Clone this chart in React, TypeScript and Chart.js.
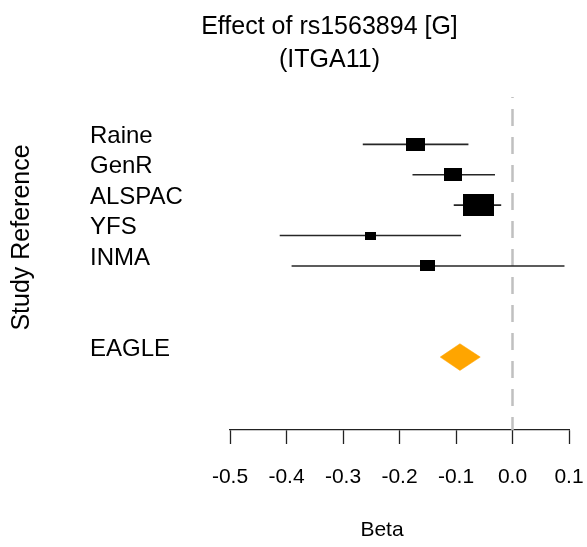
import React, { useEffect, useRef } from 'react';
import { Chart, registerables } from 'chart.js';

Chart.register(...registerables);

// ---------- data ----------
const studies = ['Raine', 'GenR', 'ALSPAC', 'YFS', 'INMA'];
const studyRows = [1, 2, 3, 4, 5];
const betaEstimates = [-0.172, -0.105, -0.061, -0.252, -0.150];
const ciLower = [-0.265, -0.177, -0.104, -0.412, -0.391];
const ciUpper = [-0.078, -0.031, -0.020, -0.091, 0.092];
const studyWeights = [18.7, 16.9, 46.5, 6.3, 11.5];

const pooledLabel = 'EAGLE';
const pooledRow = 8;
const pooledEstimate = -0.093;
const pooledLower = -0.128;
const pooledUpper = -0.057;

const xTickValues = [-0.5, -0.4, -0.3, -0.2, -0.1, 0.0, 0.1];
const xTickLabels = ['-0.5', '-0.4', '-0.3', '-0.2', '-0.1', '0.0', '0.1'];
const nullEffect = 0;

const titleLines = ['Effect of rs1563894 [G]', '(ITGA11)'];
const xAxisTitle = 'Beta';
const yAxisTitle = 'Study Reference';

// ---------- layout constants ----------
const Y_MIN = -0.56;
const Y_MAX = 10.4;
const DIAMOND_HALF = 0.44;
const FONT = '"Liberation Sans", Arial, Helvetica, sans-serif';

const allRows = [...studyRows, pooledRow];
const allLabels = [...studies, pooledLabel];

function makeBox(weight: number): HTMLCanvasElement {
  const w = Math.round(4.5 * Math.sqrt(weight));
  const h = Math.round(w * 0.7);
  const c = document.createElement('canvas');
  c.width = w;
  c.height = h;
  const g = c.getContext('2d')!;
  g.fillStyle = '#000';
  g.fillRect(0, 0, w, h);
  return c;
}

const textPlugin = {
  id: 'extraText',
  afterDraw(chart: any) {
    const ctx = chart.ctx;
    ctx.save();
    ctx.fillStyle = '#000';
    ctx.textAlign = 'center';
    ctx.textBaseline = 'middle';
    // y axis title
    ctx.save();
    ctx.translate(22.5, 237.5);
    ctx.rotate(-Math.PI / 2);
    ctx.font = `25px ${FONT}`;
    ctx.fillText(yAxisTitle, 0, 0);
    ctx.restore();
    // x axis title
    ctx.font = `21px ${FONT}`;
    ctx.fillText(xAxisTitle, 382, 530);
    ctx.restore();
  },
};

export default function App() {
  const ref = useRef<HTMLCanvasElement | null>(null);

  useEffect(() => {
    if (!ref.current) return;
    Chart.defaults.font.family = FONT;

    const datasets: any[] = [];

    // study boxes (drawn on top)
    datasets.push({
      type: 'line',
      label: 'estimates',
      data: studies.map((_, i) => ({ x: betaEstimates[i], y: studyRows[i] })),
      showLine: false,
      pointStyle: studyWeights.map((w) => makeBox(w)),
      pointRadius: 5,
      order: 0,
    });

    // confidence interval lines
    studies.forEach((s, i) => {
      datasets.push({
        type: 'line',
        label: s + ' CI',
        data: [
          { x: ciLower[i], y: studyRows[i] },
          { x: ciUpper[i], y: studyRows[i] },
        ],
        borderColor: '#262626',
        borderWidth: 1.6,
        pointRadius: 0,
        fill: false,
        order: 1,
      });
    });

    // pooled diamond (upper and lower halves, filled between)
    datasets.push({
      type: 'line',
      label: 'pooled upper',
      data: [
        { x: pooledLower, y: pooledRow },
        { x: pooledEstimate, y: pooledRow - DIAMOND_HALF },
        { x: pooledUpper, y: pooledRow },
      ],
      borderColor: '#FFA500',
      borderWidth: 0.5,
      pointRadius: 0,
      fill: false,
      order: 2,
    });
    datasets.push({
      type: 'line',
      label: 'pooled lower',
      data: [
        { x: pooledLower, y: pooledRow },
        { x: pooledEstimate, y: pooledRow + DIAMOND_HALF },
        { x: pooledUpper, y: pooledRow },
      ],
      borderColor: '#FFA500',
      backgroundColor: '#FFA500',
      borderWidth: 0.5,
      pointRadius: 0,
      fill: '-1',
      order: 2,
    });

    // null-effect reference line
    datasets.push({
      type: 'line',
      label: 'null',
      data: [
        { x: nullEffect, y: Y_MIN },
        { x: nullEffect, y: Y_MAX },
      ],
      borderColor: '#c0c0c0',
      borderWidth: 2.5,
      borderDash: [17, 11],
      borderDashOffset: 16,
      pointRadius: 0,
      fill: false,
      order: 3,
    });

    const chart = new Chart(ref.current, {
      type: 'line',
      data: { datasets },
      plugins: [textPlugin],
      options: {
        animation: false,
        responsive: false,
        events: [],
        layout: { padding: { left: 90, right: 18, top: 0, bottom: 0 } },
        plugins: {
          legend: { display: false },
          tooltip: { enabled: false },
          title: {
            display: true,
            text: titleLines,
            color: '#000',
            font: { size: 25, weight: 'normal', lineHeight: 1.33 },
            padding: { top: 10, bottom: 20.5 },
          },
        },
        scales: {
          x: {
            type: 'linear',
            position: 'bottom',
            min: -0.5,
            max: 0.1,
            afterBuildTicks: (scale: any) => {
              scale.ticks = xTickValues.map((v) => ({ value: v }));
            },
            afterFit: (scale: any) => {
              scale.height = 117;
              scale.paddingLeft = 0;
              scale.paddingRight = 0;
            },
            grid: {
              display: true,
              drawOnChartArea: false,
              drawTicks: true,
              tickLength: 14,
              tickColor: '#222',
              tickWidth: 1.3,
            },
            border: { display: true, color: '#222', width: 1.3 },
            ticks: {
              color: '#000',
              font: { size: 21 },
              padding: 21,
              maxRotation: 0,
              autoSkip: false,
              callback: (_v: any, i: number) => xTickLabels[i],
            },
            title: { display: false },
          },
          y: {
            type: 'linear',
            reverse: true,
            min: Y_MIN,
            max: Y_MAX,
            afterBuildTicks: (scale: any) => {
              scale.ticks = allRows.map((v) => ({ value: v }));
            },
            afterFit: (scale: any) => {
              scale.width = 140;
            },
            grid: { display: false },
            border: { display: false },
            ticks: {
              color: '#000',
              crossAlign: 'far',
              font: { size: 24 },
              labelOffset: -8,
              autoSkip: false,
              callback: (v: any) => {
                const idx = allRows.indexOf(Number(v));
                return idx >= 0 ? allLabels[idx] : '';
              },
            },
          },
        },
      } as any,
    });

    return () => chart.destroy();
  }, []);

  return (
    <div style={{ position: 'absolute', left: 0, top: 0, width: 587, height: 547, background: '#fff' }}>
      <canvas ref={ref} width={587} height={547} style={{ display: 'block' }} />
    </div>
  );
}
